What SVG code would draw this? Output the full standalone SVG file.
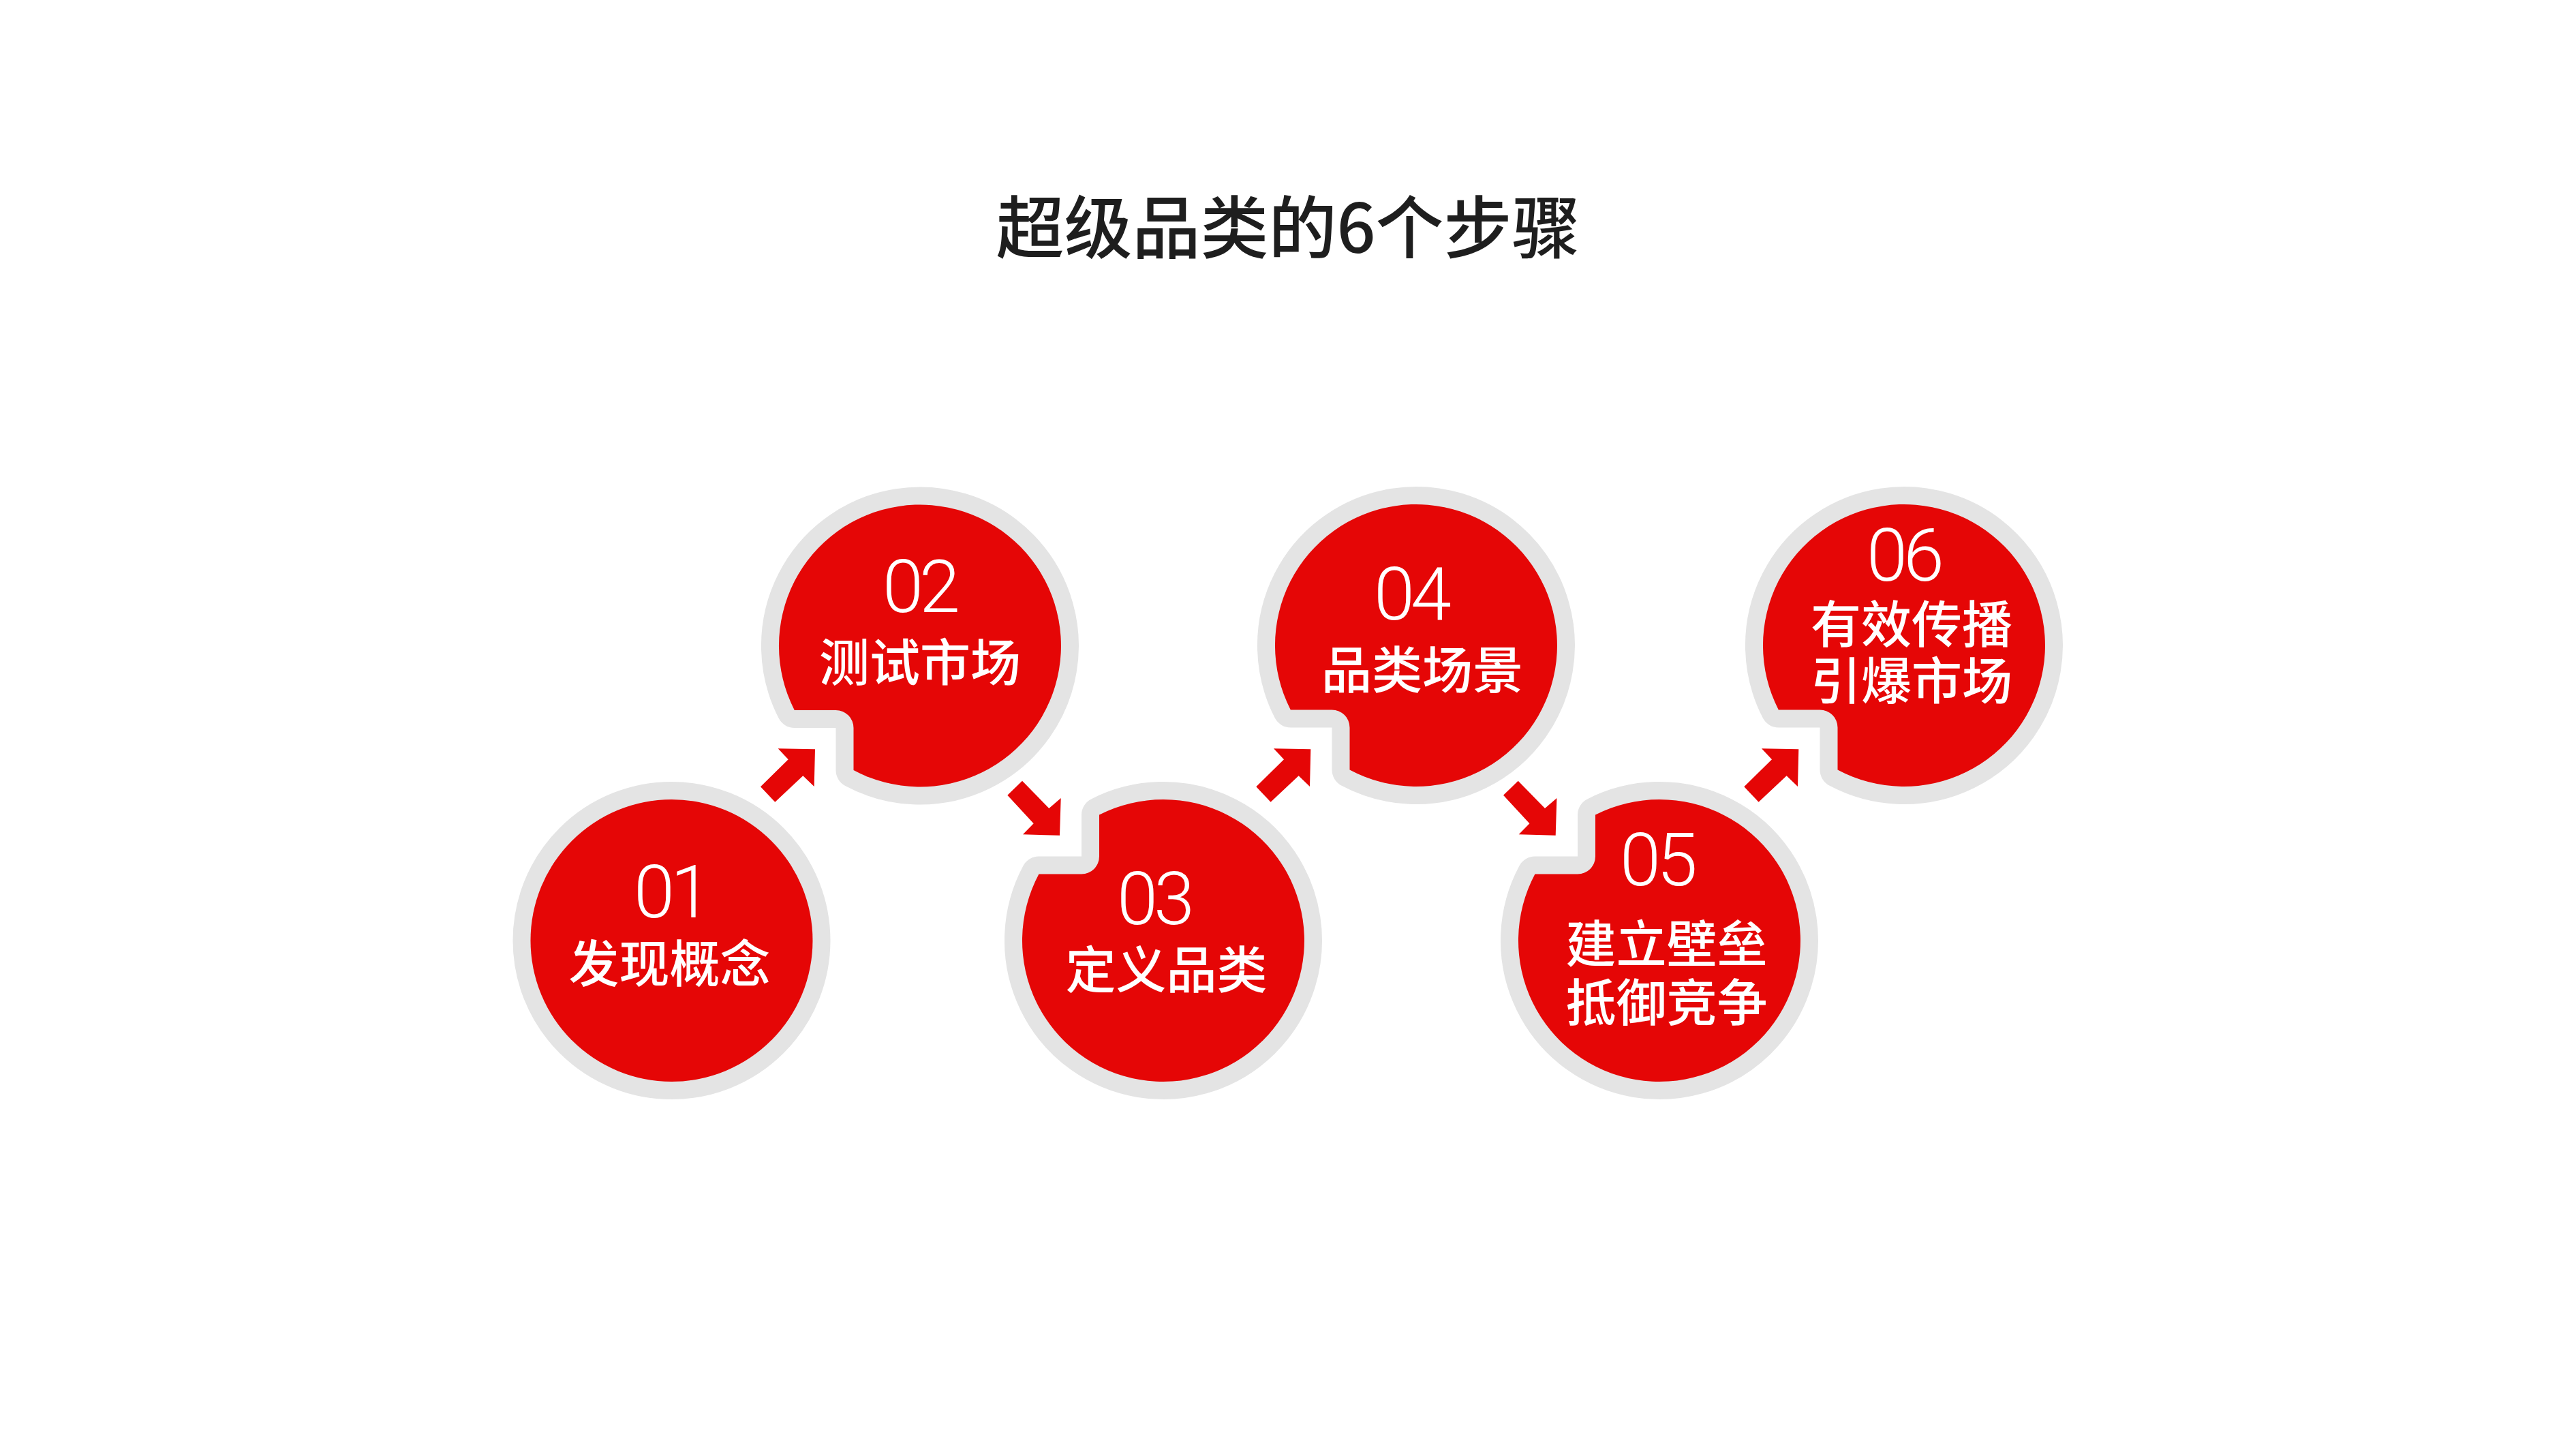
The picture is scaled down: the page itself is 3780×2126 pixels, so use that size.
<svg xmlns="http://www.w3.org/2000/svg" xmlns:xlink="http://www.w3.org/1999/xlink" width="3780" height="2126" viewBox="0 0 3780 2126">
<style>
.disc{fill:#e50606;stroke:#e4e4e4;stroke-width:52;stroke-linejoin:round;paint-order:stroke}
.arrow{fill:#e50606}
.num{font-family:Roboto,"Noto Sans",sans-serif;font-weight:300;font-size:108px;fill:#ffffff;text-anchor:middle;letter-spacing:-6px}
.lbl{font-family:"Noto Sans CJK SC","Noto Sans CJK TC",sans-serif;font-weight:500;font-size:74px;fill:#ffffff;text-anchor:middle}
.title{font-family:"Noto Sans CJK SC","Noto Sans CJK TC",sans-serif;font-weight:500;font-size:100px;fill:#1e1e1e;text-anchor:middle}
</style>
<defs>
<path id="notchTop" d="M -184.2 94.5 A 207 207 0 1 1 -97.5 182.6 L -97.5 120.5 A 26 26 0 0 0 -123.5 94.5 Z"/>
<path id="notchBottom" d="M -94 -184.4 A 207 207 0 1 1 -182.6 -97.5 L -120 -97.5 A 26 26 0 0 0 -94 -123.5 Z"/>
<polygon id="arrowUp" points="1141.7,1098.3 1196,1099.3 1194.7,1154 1178.3,1138.3 1137.3,1176.7 1116,1154.3 1156.7,1114.3"/>
<polygon id="arrowDown" points="1500,1145.7 1539.3,1186 1556.7,1171 1555,1225.7 1501,1224.3 1516.7,1208.3 1478.3,1166.7"/>
</defs>
<rect x="0" y="0" width="3780" height="2126" fill="#ffffff"/>
<text class="title" x="1890" y="371">超级品类的6个步骤</text>

<g id="connectors">
<use xlink:href="#arrowUp" href="#arrowUp" class="arrow"/>
<use xlink:href="#arrowDown" href="#arrowDown" class="arrow"/>
<use xlink:href="#arrowUp" href="#arrowUp" class="arrow" transform="translate(727.3 0)"/>
<use xlink:href="#arrowDown" href="#arrowDown" class="arrow" transform="translate(727.7 0)"/>
<use xlink:href="#arrowUp" href="#arrowUp" class="arrow" transform="translate(1443.3 0)"/>
</g>

<g id="step01">
<circle class="disc" cx="985.5" cy="1380" r="207"/>
<text class="num" x="984" y="1346">01</text>
<text class="lbl" x="982.5" y="1441">发现概念</text>
</g>

<g id="step02">
<use xlink:href="#notchTop" href="#notchTop" class="disc" transform="translate(1350 947.5)"/>
<text class="num" x="1349" y="898">02</text>
<text class="lbl" x="1350" y="999">测试市场</text>
</g>

<g id="step03">
<use xlink:href="#notchBottom" href="#notchBottom" class="disc" transform="translate(1707 1380)"/>
<text class="num" x="1693" y="1356">03</text>
<text class="lbl" x="1711.5" y="1450">定义品类</text>
</g>

<g id="step04">
<use xlink:href="#notchTop" href="#notchTop" class="disc" transform="translate(2078 947)"/>
<text class="num" x="2070" y="909">04</text>
<text class="lbl" x="2087" y="1010">品类场景</text>
</g>

<g id="step05">
<use xlink:href="#notchBottom" href="#notchBottom" class="disc" transform="translate(2435 1380)"/>
<text class="num" x="2431" y="1299">05</text>
<text class="lbl" x="2445.5" y="1412">建立壁垒</text>
<text class="lbl" x="2445.5" y="1498">抵御竞争</text>
</g>

<g id="step06">
<use xlink:href="#notchTop" href="#notchTop" class="disc" transform="translate(2794 947)"/>
<text class="num" x="2793" y="852">06</text>
<text class="lbl" x="2805" y="943">有效传播</text>
<text class="lbl" x="2805" y="1026">引爆市场</text>
</g>
</svg>
